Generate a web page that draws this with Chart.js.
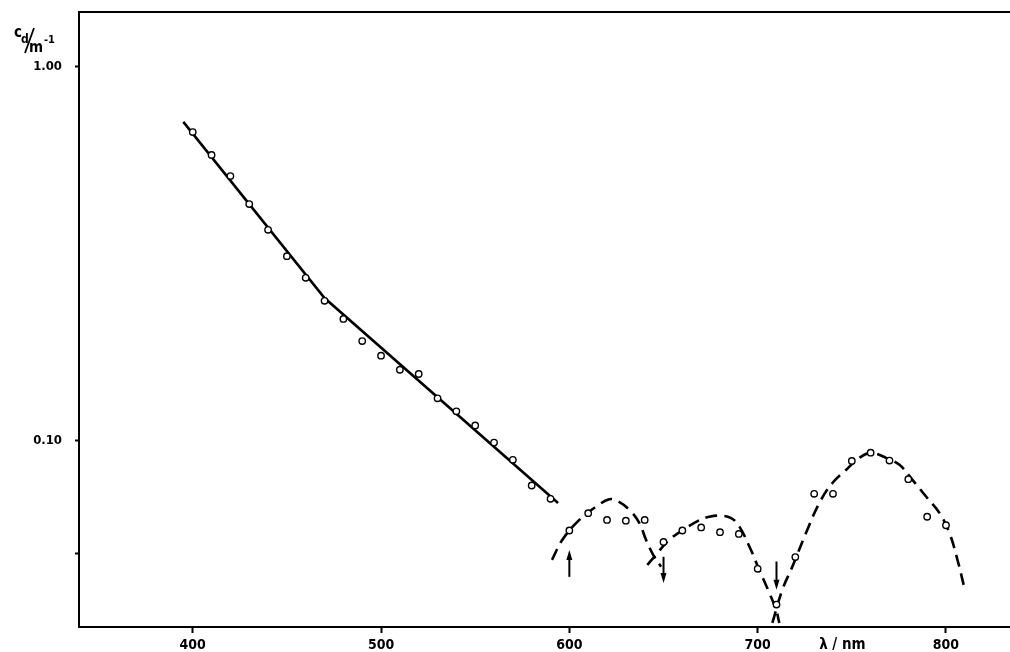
<!DOCTYPE html>
<html lang="en">
<head>
  <meta charset="UTF-8">
  <title>c_d / m-1 vs λ / nm</title>
  <style>
    html, body { margin: 0; padding: 0; background: #fff; }
    #caja { width: 1010px; height: 652px; }
  </style>
</head>
<body>
  <div id="caja"><canvas id="grafica" width="1010" height="652"></canvas></div>
  <script src="https://cdn.jsdelivr.net/npm/chart.js"></script>
  <script>
    // measured points (open circles)
    const lambdas = [400, 410, 420, 430, 440, 450, 460, 470, 480, 490,
                     500, 510, 520, 530, 540, 550, 560, 570, 580, 590,
                     600, 610, 620, 630, 640, 650, 660, 670, 680, 690,
                     700, 710, 720, 730, 740, 750, 760, 770, 780, 790, 800];
    const cd = [0.670, 0.582, 0.511, 0.430, 0.367, 0.312, 0.273, 0.237, 0.212, 0.185,
                0.169, 0.155, 0.151, 0.130, 0.120, 0.110, 0.099, 0.089, 0.076, 0.070,
                0.0576, 0.0641, 0.0615, 0.0612, 0.0615, 0.0537, 0.0576, 0.0587, 0.0570, 0.0564,
                0.0455, 0.0365, 0.0489, 0.0722, 0.0722, 0.0884, 0.0930, 0.0886, 0.0790, 0.0627, 0.0595];

    // solid fitted line
    const fitX = [395, 470, 594];
    const fitY = [0.713, 0.241, 0.0682];

    // dashed curves
    const arco1X = [590.8, 596.3, 605.3, 614.2, 621.2, 625.5, 631.9, 637.2, 640.7, 645.1, 648.7];
    const arco1Y = [0.0481, 0.0544, 0.0615, 0.0667, 0.0698, 0.0691, 0.0654, 0.0603, 0.0544, 0.0490, 0.0461];
    const arco2X = [641.4, 645.1, 653.1, 662.0, 669.0, 674.3, 679.7, 685.9, 690.3, 695.6, 700.9, 706.2, 709.8, 711.5];
    const arco2Y = [0.0466, 0.0490, 0.0544, 0.0585, 0.0614, 0.0627, 0.0631, 0.0622, 0.0590, 0.0522, 0.0452, 0.0392, 0.0353, 0.0326];
    const arco3X = [707.8, 713.1, 718.4, 725.7, 732.8, 739.7, 746.9, 754.0, 760.2, 768.2, 775.3, 782.2, 789.4, 796.5, 801.8, 806.1, 809.8];
    const arco3Y = [0.0326, 0.0400, 0.0461, 0.0568, 0.0683, 0.0772, 0.0836, 0.0901, 0.0929, 0.0901, 0.0863, 0.0787, 0.0710, 0.0642, 0.0568, 0.0481, 0.0404];

    // arrows (wavelength, tail value, tip value)
    const flechaX = [600, 650, 710];
    const flechaDesde = [0.0433, 0.0490, 0.0476];
    const flechaHasta = [0.0511, 0.0417, 0.0400];

    // ticks
    const xTicks = [400, 500, 600, 700, 800];
    const yTicks = [0.05, 0.1, 1];
    const yEtiquetas = ["", "0.10", "1.00"];

    const juntar = (xs, ys) => xs.map((x, i) => ({ x: x, y: ys[i] }));
    const fuente = "'DejaVu Sans Condensed', 'DejaVu Sans', sans-serif";

    // no automatic label padding: chart area must sit exactly on the frame
    const sinRelleno = s => { s.paddingTop = 0; s.paddingBottom = 0; s.paddingLeft = 0; s.paddingRight = 0; };

    // extra drawing: top frame line, arrows, axis titles
    const extras = {
      id: "extras",
      afterDraw(chart) {
        const ctx = chart.ctx;
        const ca = chart.chartArea;
        const sx = chart.scales.x;
        const sy = chart.scales.y;
        ctx.save();
        ctx.strokeStyle = "#000";
        ctx.fillStyle = "#000";
        ctx.lineWidth = 2;
        ctx.beginPath();
        ctx.moveTo(ca.left - 1, ca.top);
        ctx.lineTo(ca.right, ca.top);
        ctx.stroke();

        // arrows
        flechaX.forEach((v, i) => {
          const px = sx.getPixelForValue(v);
          const y1 = sy.getPixelForValue(flechaDesde[i]);
          const y2 = sy.getPixelForValue(flechaHasta[i]);
          const dir = y2 < y1 ? 1 : -1;
          ctx.lineWidth = 2;
          ctx.beginPath();
          ctx.moveTo(px, y1);
          ctx.lineTo(px, y2 + dir * 6);
          ctx.stroke();
          ctx.beginPath();
          ctx.moveTo(px, y2);
          ctx.lineTo(px - 3, y2 + dir * 10);
          ctx.lineTo(px + 3, y2 + dir * 10);
          ctx.closePath();
          ctx.fill();
        });

        // x title
        ctx.font = "bold 15px " + fuente;
        ctx.textAlign = "center";
        ctx.textBaseline = "middle";
        ctx.fillText("λ / nm", sx.getPixelForValue(745), 645);

        // y title c_d / m^-1
        ctx.textAlign = "left";
        ctx.textBaseline = "alphabetic";
        ctx.font = "bold 15px " + fuente;
        ctx.fillText("c", 14, 37);
        ctx.font = "bold 12px " + fuente;
        ctx.fillText("d", 21, 43);
        ctx.lineWidth = 1.8;
        ctx.beginPath();
        ctx.moveTo(34, 28);
        ctx.lineTo(25, 53);
        ctx.stroke();
        ctx.font = "bold 15px " + fuente;
        ctx.fillText("m", 29, 52);
        ctx.font = "bold 11px " + fuente;
        ctx.fillText("-1", 44, 43);
        ctx.restore();
      }
    };

    const ctx = document.getElementById("grafica").getContext("2d");
    new Chart(ctx, {
      type: "scatter",
      data: {
        datasets: [
          {
            data: juntar(lambdas, cd),
            showLine: false,
            pointRadius: 3.2,
            pointBorderWidth: 1.4,
            pointBackgroundColor: "#fff",
            pointBorderColor: "#000"
          },
          {
            data: juntar(fitX, fitY),
            showLine: true,
            borderColor: "#000",
            borderWidth: 2.6,
            pointRadius: 0,
            tension: 0
          },
          {
            data: juntar(arco1X, arco1Y),
            showLine: true,
            borderColor: "#000",
            borderWidth: 2.6,
            borderDash: [12, 7],
            pointRadius: 0,
            tension: 0.4
          },
          {
            data: juntar(arco2X, arco2Y),
            showLine: true,
            borderColor: "#000",
            borderWidth: 2.6,
            borderDash: [12, 7],
            pointRadius: 0,
            tension: 0.4
          },
          {
            data: juntar(arco3X, arco3Y),
            showLine: true,
            borderColor: "#000",
            borderWidth: 2.6,
            borderDash: [12, 7],
            pointRadius: 0,
            tension: 0.4
          }
        ]
      },
      options: {
        responsive: false,
        animation: false,
        layout: { autoPadding: false, padding: { top: 12, right: 0, left: 0, bottom: 0 } },
        plugins: {
          legend: { display: false },
          tooltip: { enabled: false },
          title: { display: false }
        },
        scales: {
          x: {
            type: "linear",
            min: 339.6,
            max: 834,
            afterBuildTicks: s => { s.ticks = xTicks.map(v => ({ value: v })); },
            afterFit: s => { s.height = 25; sinRelleno(s); },
            grid: { drawOnChartArea: false, drawTicks: true, tickLength: 6, tickWidth: 2, color: "#000" },
            border: { display: true, color: "#000", width: 2 },
            ticks: {
              color: "#000",
              autoSkip: false,
              maxRotation: 0,
              padding: 4,
              font: { family: fuente, size: 14, weight: "bold" },
              callback: v => String(v)
            }
          },
          y: {
            type: "logarithmic",
            min: 0.0318,
            max: 1.403,
            afterBuildTicks: s => { s.ticks = yTicks.map(v => ({ value: v })); },
            afterFit: s => { s.width = 79; sinRelleno(s); },
            grid: { drawOnChartArea: false, drawTicks: true, tickLength: 4, tickWidth: 2, color: "#000" },
            border: { display: true, color: "#000", width: 2 },
            ticks: {
              color: "#000",
              autoSkip: false,
              padding: 13,
              font: { family: fuente, size: 13, weight: "bold" },
              callback: v => {
                const i = yTicks.indexOf(v);
                return i >= 0 ? yEtiquetas[i] : "";
              }
            }
          }
        }
      },
      plugins: [extras]
    });
  </script>
</body>
</html>
